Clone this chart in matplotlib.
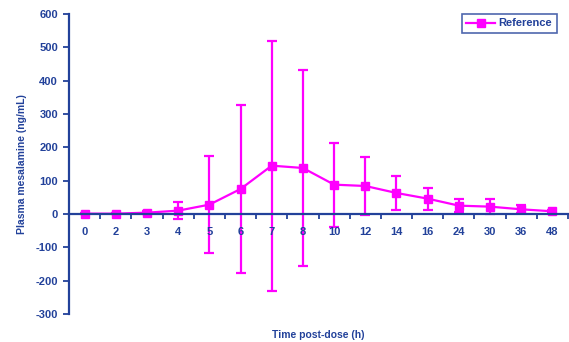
import matplotlib.pyplot as plt
import numpy as np
from matplotlib.lines import Line2D

plt.rcParams['font.family'] = 'Liberation Sans'
plt.rcParams['font.weight'] = 'bold'
plt.rcParams['axes.unicode_minus'] = False

# data
times = ['0', '2', '3', '4', '5', '6', '7', '8', '10', '12', '14', '16', '24', '30', '36', '48']
mean = [1, 1, 4, 10, 28, 75, 145, 138, 88, 84, 63, 46, 25, 22, 14, 8]
sd = [2, 2, 4, 26, 145, 252, 375, 294, 126, 86, 52, 33, 20, 22, 12, 5]

blue = '#22419A'
mag = '#FF00FF'

fig = plt.figure(figsize=(5.69, 3.42), dpi=100)
ax = fig.add_axes([0.1213, 0.082, 0.877, 0.877])
x = np.arange(len(times))
ax.errorbar(x, mean, yerr=sd, color=mag, lw=1.6, marker='s', ms=6,
            capsize=3.5, capthick=1.6, elinewidth=1.6)

ax.set_xlim(-0.5, len(times) - 0.5)
ax.set_ylim(-300, 600)
ax.set_yticks(np.arange(-300, 601, 100))
ax.spines['top'].set_visible(False)
ax.spines['right'].set_visible(False)
ax.spines['bottom'].set_position(('data', 0))
for s in ['left', 'bottom']:
    ax.spines[s].set_color(blue)
    ax.spines[s].set_linewidth(1.6)

ax.set_xticks(x + 0.5)
ax.set_xticklabels([])
ax.tick_params(axis='x', colors=blue, length=3.5, width=1.3, direction='out')
ax.tick_params(axis='y', colors=blue, length=4, width=1.3, labelsize=8, pad=4)
for xi, t in zip(x, times):
    ax.text(xi, -55, t, ha='center', va='center', color=blue, fontsize=8, fontweight='bold')

ax.set_ylabel('Plasma mesalamine (ng/mL)', color=blue, fontsize=7.5, fontweight='bold')
ax.yaxis.set_label_coords(-0.084, 0.5)
fig.text(0.56, 0.0205, 'Time post-dose (h)', ha='center', va='center', color=blue,
         fontsize=7.5, fontweight='bold')

handle = Line2D([], [], color=mag, lw=1.6, marker='s', ms=6)
leg = ax.legend([handle], ['Reference'], loc='upper right', bbox_to_anchor=(0.977, 1.0),
                borderaxespad=0, fancybox=False, fontsize=8, handlelength=2.6,
                handletextpad=0.3, borderpad=0.4)
leg.get_frame().set_edgecolor(blue)
leg.get_frame().set_linewidth(1.2)
for t in leg.get_texts():
    t.set_color(blue)

plt.savefig('out.png', dpi=100)
